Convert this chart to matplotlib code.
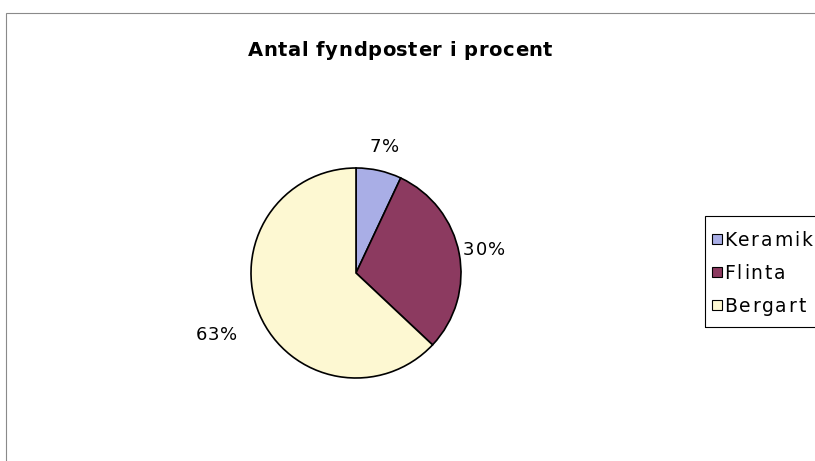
import numpy as np
import matplotlib.pyplot as plt
from matplotlib.patches import Rectangle
from matplotlib.font_manager import FontProperties

plt.rcParams["font.family"] = ["DejaVu Sans"]

# Data
categories = ["Keramik", "Flinta", "Bergart"]
shares = [7, 30, 63]
colors = ["#a9aee6", "#8c3a60", "#fdf8d2"]

W, H = 815, 461
fig = plt.figure(figsize=(W / 100, H / 100), dpi=100)
ax = fig.add_axes([0, 0, 1, 1])
ax.axis("off")
renderer = fig.canvas.get_renderer()


def text_width(s, fp):
    if not s:
        return 0.0
    return renderer.get_text_width_height_descent(s, fp, ismath=False)[0]


def spaced_text(x, y, s, fp, track, ha="center"):
    """Letter-spaced text, y is the middle of the capitals (pixel coords)."""
    total = text_width(s, fp) + track * (len(s) - 1)
    x0 = {"center": x - total / 2, "left": x, "right": x - total}[ha]
    base = y - 0.365 * fp.get_size_in_points() * fig.dpi / 72
    for i, ch in enumerate(s):
        if ch == " ":
            continue
        ax.text(x0 + text_width(s[:i], fp) + track * i, base, ch, ha="left",
                va="baseline", fontproperties=fp)


# chart area frame (cut off on right and bottom)
ax.add_patch(Rectangle((6, -10), W, H - 13 + 10, fill=False,
                       edgecolor="#8a8a8a", linewidth=0.8))

title = "Antal fyndposter i procent"
fp_title = FontProperties(family="DejaVu Sans", size=14, weight="bold")
spaced_text(400, H - 49, title, fp_title,
            (305 - text_width(title, fp_title)) / (len(title) - 1))

cx, cy, r = 356, H - 273, 105
wedges, _ = ax.pie(shares, colors=colors, startangle=90, counterclock=False,
                   center=(cx, cy), radius=r,
                   wedgeprops=dict(edgecolor="black", linewidth=1.2))
ax.set_xlim(0, W)
ax.set_ylim(0, H)
ax.set_aspect("equal")

fp_lab = FontProperties(family="DejaVu Sans", size=13)
label_dist = [1.25, 1.24, 1.45]
track_lab = (42 - text_width("63%", fp_lab)) / 2
for w, s, d in zip(wedges, shares, label_dist):
    ang = np.deg2rad((w.theta1 + w.theta2) / 2)
    spaced_text(cx + d * r * np.cos(ang), cy + d * r * np.sin(ang),
                f"{s}%", fp_lab, track_lab)

# legend
fp_leg = FontProperties(family="DejaVu Sans", size=13.5)
track_leg = (88 - text_width("Keramik", fp_leg)) / 6
ax.add_patch(Rectangle((705, H - 327), 130, 111, fill=False,
                       edgecolor="black", linewidth=0.8))
for i, (cat, col) in enumerate(zip(categories, colors)):
    y = H - 239 - i * 33
    ax.add_patch(Rectangle((712, y - 5), 10, 10, facecolor=col,
                           edgecolor="black", linewidth=0.8))
    spaced_text(724, y, cat, fp_leg, track_leg, ha="left")

fig.savefig("out.png", dpi=100)
